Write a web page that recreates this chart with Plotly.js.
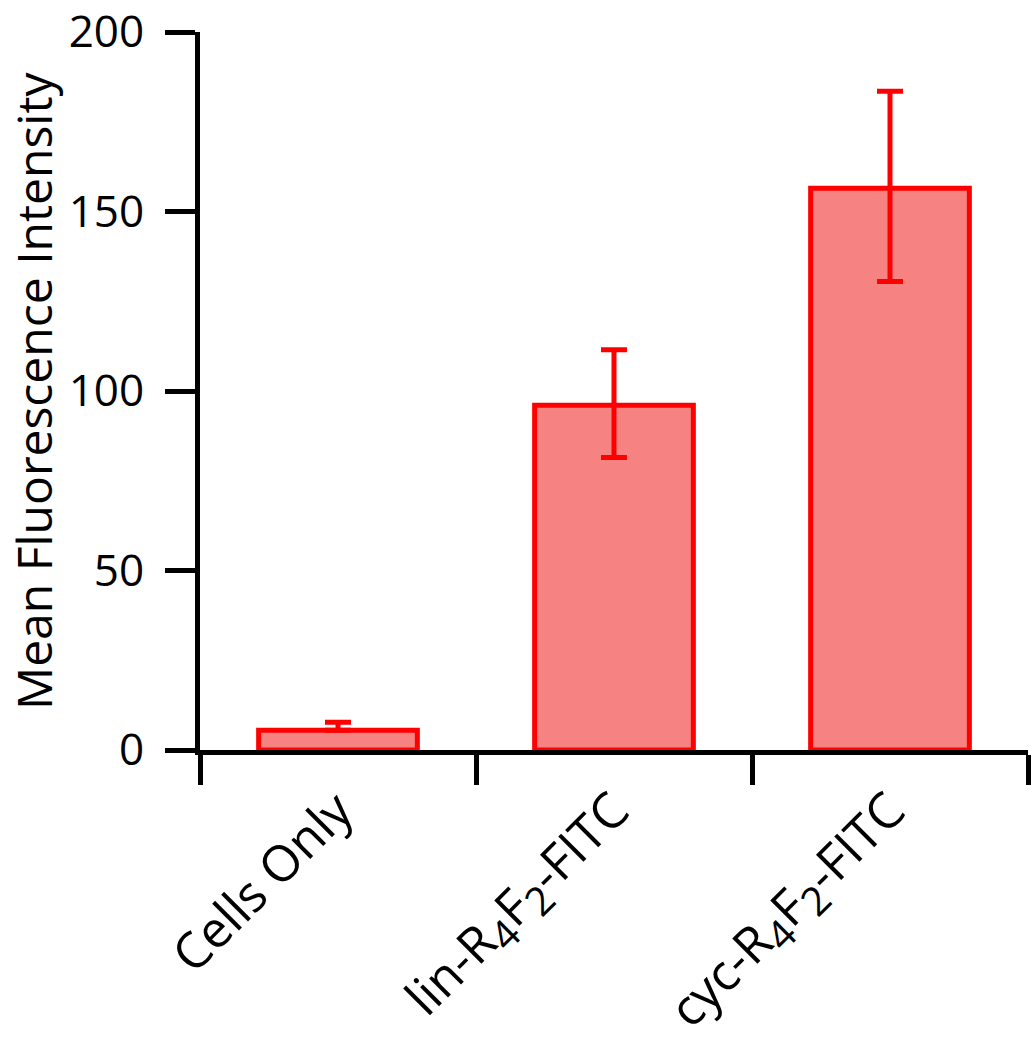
<!DOCTYPE html>
<html>
<head>
<meta charset="utf-8">
<script src="https://cdn.plot.ly/plotly-3.0.1.min.js"></script>
<style>
  body { margin: 0; background: #fff; }
  #plot { width: 1036px; height: 1050px; }
</style>
</head>
<body>
<div id="plot"></div>
<script>
// data
const categories = [
  "Cells Only",
  "lin-R<sub><span style=\"font-size:40px;color:#000\">4</span></sub>F<sub><span style=\"font-size:40px;color:#000\">2</span></sub>-FITC",
  "cyc-R<sub><span style=\"font-size:40px;color:#000\">4</span></sub>F<sub><span style=\"font-size:40px;color:#000\">2</span></sub>-FITC"
];
const meanValues = [5.5, 96, 156.5];
const errorPlus = [2.2, 15.5, 27];
const errorMinus = [0, 14.5, 26];
const yTicks = [0, 50, 100, 150, 200];
const yTitle = "Mean Fluorescence Intensity";

const trace = {
  x: categories,
  y: meanValues,
  type: "bar",
  width: 0.575,
  marker: {
    color: "#F78282",
    line: { color: "#FF0000", width: 5 }
  },
  error_y: {
    type: "data",
    symmetric: false,
    array: errorPlus,
    arrayminus: errorMinus,
    color: "#FF0000",
    thickness: 5,
    width: 13
  },
  hoverinfo: "none"
};

const layout = {
  width: 1036,
  height: 1050,
  showlegend: false,
  paper_bgcolor: "#fff",
  plot_bgcolor: "#fff",
  font: { family: "Open Sans, sans-serif", color: "#000", size: 46 },
  margin: { l: 200, r: 8, t: 32, b: 300 },
  xaxis: {
    type: "category",
    range: [-0.5, 2.5],
    tickson: "boundaries",
    ticks: "outside",
    ticklen: 30,
    tickwidth: 5,
    tickcolor: "#000",
    tickangle: -45,
    ticklabelstandoff: 6,
    tickfont: { size: 50, color: "#000" },
    showline: true,
    linewidth: 5,
    linecolor: "#000",
    showgrid: false,
    zeroline: false,
    automargin: false
  },
  yaxis: {
    range: [0, 200],
    tickvals: yTicks,
    ticks: "outside",
    ticklen: 30,
    tickwidth: 5,
    tickcolor: "#000",
    ticklabelstandoff: 12,
    ticklabeloverflow: "allow",
    tickfont: { size: 44, color: "#000" },
    showline: true,
    linewidth: 5,
    linecolor: "#000",
    showgrid: false,
    zeroline: false,
    automargin: false
  },
  annotations: [{
    text: yTitle,
    xref: "paper", yref: "paper",
    x: 0, y: 0.5,
    xanchor: "center", yanchor: "middle",
    xshift: -167,
    textangle: -90,
    showarrow: false,
    font: { size: 48, color: "#000" }
  }]
};

Plotly.newPlot("plot", [trace], layout, { displayModeBar: false, staticPlot: true });
</script>
</body>
</html>
